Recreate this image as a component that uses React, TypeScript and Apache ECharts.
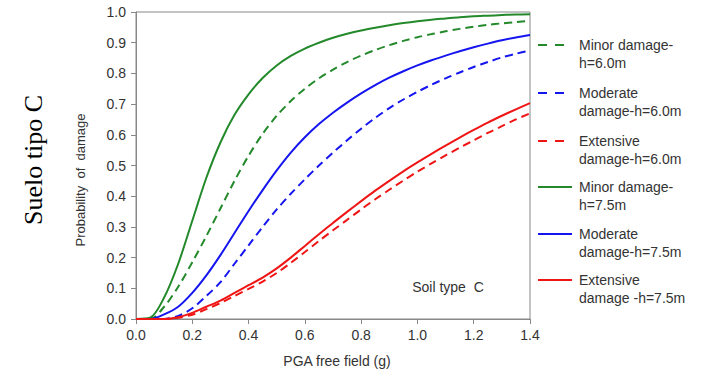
import React, { useEffect, useRef } from "react";
import * as echarts from "echarts";

const pga = [
  0, 0.05, 0.1, 0.15, 0.2, 0.25, 0.3, 0.35, 0.4, 0.45, 0.5, 0.55, 0.6, 0.65, 0.7,
  0.75, 0.8, 0.85, 0.9, 0.95, 1.0, 1.05, 1.1, 1.15, 1.2, 1.25, 1.3, 1.35, 1.4,
];

const minor60 = [
  0, 0, 0.04, 0.105, 0.185, 0.27, 0.36, 0.45, 0.532, 0.603, 0.662, 0.71, 0.75, 0.784, 0.812,
  0.837, 0.858, 0.876, 0.892, 0.906, 0.918, 0.928, 0.937, 0.945, 0.952, 0.958, 0.963, 0.967, 0.971,
];
const moderate60 = [
  0, 0, 0, 0.01, 0.035, 0.075, 0.12, 0.18, 0.24, 0.3, 0.357, 0.408, 0.455, 0.5, 0.542,
  0.582, 0.62, 0.655, 0.687, 0.715, 0.74, 0.763, 0.784, 0.803, 0.821, 0.837, 0.852, 0.864, 0.875,
];
const extensive60 = [
  0, 0, 0, 0.004, 0.014, 0.032, 0.052, 0.075, 0.098, 0.122, 0.15, 0.183, 0.218, 0.254, 0.289,
  0.323, 0.357, 0.39, 0.421, 0.451, 0.48, 0.507, 0.533, 0.558, 0.582, 0.606, 0.628, 0.65, 0.67,
];
const minor75 = [
  0, 0.004, 0.07, 0.18, 0.32, 0.46, 0.575, 0.665, 0.732, 0.785, 0.826, 0.857, 0.881, 0.9, 0.916,
  0.929, 0.94, 0.949, 0.957, 0.964, 0.97, 0.975, 0.979, 0.983, 0.986, 0.988, 0.99, 0.992, 0.993,
];
const moderate75 = [
  0, 0, 0.015, 0.04, 0.085, 0.142, 0.208, 0.28, 0.352, 0.42, 0.484, 0.542, 0.592, 0.635, 0.672,
  0.705, 0.735, 0.762, 0.786, 0.807, 0.826, 0.843, 0.858, 0.872, 0.885, 0.897, 0.908, 0.917, 0.925,
];
const extensive75 = [
  0, 0, 0, 0.006, 0.02, 0.04, 0.06, 0.085, 0.11, 0.135, 0.165, 0.2, 0.238, 0.276, 0.313,
  0.349, 0.384, 0.418, 0.45, 0.481, 0.51, 0.538, 0.565, 0.591, 0.616, 0.64, 0.662, 0.683, 0.703,
];

const legendNames = [
  "Minor damage-\nh=6.0m",
  "Moderate\ndamage-h=6.0m",
  "Extensive\ndamage-h=6.0m",
  "Minor damage-\nh=7.5m",
  "Moderate\ndamage-h=7.5m",
  "Extensive\ndamage -h=7.5m",
];

const GREEN = "#23892a";
const BLUE = "#1515f0";
const RED = "#f01515";

const seriesDefs = [
  { name: legendNames[0], data: minor60, color: GREEN, dashed: true },
  { name: legendNames[1], data: moderate60, color: BLUE, dashed: true },
  { name: legendNames[2], data: extensive60, color: RED, dashed: true },
  { name: legendNames[3], data: minor75, color: GREEN, dashed: false },
  { name: legendNames[4], data: moderate75, color: BLUE, dashed: false },
  { name: legendNames[5], data: extensive75, color: RED, dashed: false },
];

const SANS = "'Liberation Sans', Arial, sans-serif";

export default function App() {
  const ref = useRef<HTMLDivElement>(null);
  useEffect(() => {
    if (!ref.current) return;
    const chart = echarts.init(ref.current, undefined, { renderer: "svg" });
    const legendY = [45, 93, 141, 187, 234, 280];
    const legendGraphics: any[] = [];
    seriesDefs.forEach((s, i) => {
      legendGraphics.push({
        type: "line",
        shape: { x1: 538, y1: legendY[i], x2: s.dashed ? 565 : 572, y2: legendY[i] },
        style: { stroke: s.color, lineWidth: 2.2, lineDash: s.dashed ? [9, 8] : null },
      });
      legendGraphics.push({
        type: "text",
        x: 579,
        y: legendY[i] - 9,
        style: {
          text: s.name,
          fill: "#333",
          font: "14px " + SANS,
          lineHeight: 18,
          textVerticalAlign: "top",
        },
      });
    });
    chart.setOption({
      animation: false,
      backgroundColor: "#fff",
      grid: { left: 136, right: 173, top: 12, bottom: 52, show: true, borderColor: "#888", borderWidth: 1 },
      xAxis: {
        type: "value",
        min: 0,
        max: 1.4,
        interval: 0.2,
        axisLine: { show: true, lineStyle: { color: "#888" } },
        axisTick: { show: true, length: 5, lineStyle: { color: "#888" } },
        splitLine: { show: false },
        axisLabel: {
          margin: 9,
          color: "#333",
          fontSize: 14,
          fontFamily: SANS,
          formatter: (v: number) => v.toFixed(1),
        },
      },
      yAxis: {
        type: "value",
        min: 0,
        max: 1,
        interval: 0.1,
        axisLine: { show: true, lineStyle: { color: "#888" } },
        axisTick: { show: true, length: 5, lineStyle: { color: "#888" } },
        splitLine: { show: false },
        axisLabel: {
          margin: 10,
          color: "#333",
          fontSize: 14,
          fontFamily: SANS,
          formatter: (v: number) => v.toFixed(1),
        },
      },
      series: seriesDefs.map((s) => ({
        name: s.name,
        type: "line",
        data: pga.map((x, i) => [x, s.data[i]]),
        smooth: 0.3,
        showSymbol: false,
        symbol: "none",
        lineStyle: { color: s.color, width: 2, type: s.dashed ? [8, 5] : "solid" },
        itemStyle: { color: s.color },
        z: s.dashed ? 2 : 3,
      })),
      graphic: [
        {
          type: "text",
          x: 33,
          y: 160,
          rotation: Math.PI / 2,
          style: {
            text: "Suelo tipo C",
            fill: "#000",
            font: "26px 'Liberation Serif', 'Times New Roman', serif",
            textAlign: "center",
            textVerticalAlign: "middle",
          },
        },
        {
          type: "text",
          x: 80,
          y: 180,
          rotation: Math.PI / 2,
          style: {
            text: "Probability  of  damage",
            fill: "#333",
            font: "13px " + SANS,
            textAlign: "center",
            textVerticalAlign: "middle",
          },
        },
        {
          type: "text",
          x: 337,
          y: 361,
          style: {
            text: "PGA free field (g)",
            fill: "#333",
            font: "14px " + SANS,
            textAlign: "center",
            textVerticalAlign: "middle",
          },
        },
        {
          type: "text",
          x: 448,
          y: 287,
          style: {
            text: "Soil type  C",
            fill: "#333",
            font: "14px " + SANS,
            textAlign: "center",
            textVerticalAlign: "middle",
          },
        },
        ...legendGraphics,
      ],
    });
    return () => chart.dispose();
  }, []);
  return <div ref={ref} style={{ width: 703, height: 371, position: "fixed", left: 0, top: 0 }} />;
}
